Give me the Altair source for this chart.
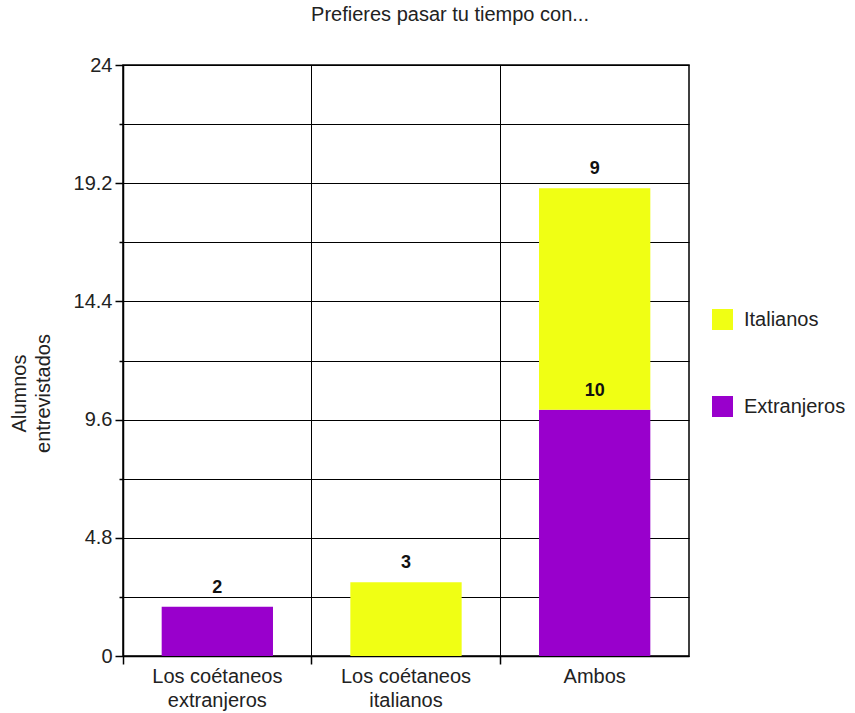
import altair as alt
import pandas as pd

categories = ["Los coétaneos extranjeros", "Los coétaneos italianos", "Ambos"]
series = ["Extranjeros", "Italianos"]
extranjeros = [2, 0, 10]
italianos = [0, 3, 9]
y_ticks = [0, 2.4, 4.8, 7.2, 9.6, 12, 14.4, 16.8, 19.2, 21.6, 24]
y_labeled = [0, 4.8, 9.6, 14.4, 19.2, 24]
colors = ["#F0FF14", "#9900CC"]  # Italianos, Extranjeros

rows = []
for i, c in enumerate(categories):
    for j, (s, vals) in enumerate(zip(series, [extranjeros, italianos])):
        if vals[i] > 0:
            rows.append({"category": c, "series": s, "value": vals[i], "order": j})
df = pd.DataFrame(rows)

FONT = "Liberation Sans"
P_IN = 0.41
P_OUT = P_IN / 2
BAND_POS = -(P_IN / 2) / (1 - P_IN)

base = alt.Chart(df).transform_stack(
    stack="value", groupby=["category"], as_=["y0", "y1"],
    sort=[alt.SortField("order", "ascending")]
)

xenc = alt.X(
    "category:N", sort=categories, title=None,
    scale=alt.Scale(paddingInner=P_IN, paddingOuter=P_OUT),
    axis=alt.Axis(
        bandPosition=BAND_POS, grid=True, gridColor="#000", gridOpacity=1, gridWidth=1,
        ticks=True, tickSize=8, tickColor="#000", tickWidth=1.5,
        domainColor="#000", domainWidth=1.5, labelAngle=0,
        labelFontSize=20, labelFont=FONT, labelColor="#222", labelLimit=300,
        labelPadding=2, labelLineHeight=24,
        labelExpr="split(replace(datum.label, 'coétaneos ', 'coétaneos|'), '|')",
    ),
)

label_test = " || ".join(f"datum.value == {v}" for v in y_labeled)

yenc = alt.Y(
    "y1:Q", title=["Alumnos", "entrevistados"],
    scale=alt.Scale(domain=[0, 24], nice=False, zero=True),
    axis=alt.Axis(
        values=y_ticks, format=".3~g", grid=True, gridColor="#000", gridOpacity=1, gridWidth=1,
        tickColor="#000", tickWidth=1.5,
        tickSize={"condition": {"test": label_test, "value": 8}, "value": 4},
        domainColor="#000", domainWidth=1.5,
        labelExpr=f"({label_test}) ? datum.label : ''",
        labelFontSize=20, labelFont=FONT, labelColor="#222", labelPadding=3,
        titleFontSize=20, titleFont=FONT, titleFontWeight="normal", titleColor="#222",
        titleX=-114, titleY=328, titleBaseline="top", titleAngle=-90, titleLineHeight=24,
    ),
)

bars = base.mark_bar().encode(
    x=xenc,
    y=yenc,
    y2="y0:Q",
    color=alt.Color(
        "series:N",
        scale=alt.Scale(domain=["Italianos", "Extranjeros"], range=colors),
        legend=alt.Legend(
            title=None, orient="none", legendX=589, legendY=244,
            symbolType="square", symbolSize=441, symbolStrokeWidth=0,
            rowPadding=66, labelFontSize=20, labelFont=FONT, labelColor="#222",
            labelOffset=11,
        ),
    ),
)

texts = base.mark_text(
    baseline="alphabetic", dy=-14, fontWeight="bold", fontSize=18, font=FONT, color="#111"
).encode(
    x=alt.X("category:N", sort=categories),
    y=alt.Y("y1:Q"),
    text=alt.Text("value:Q"),
)

chart = alt.layer(bars, texts).properties(
    width=566, height=591,
    title=alt.Title(
        "Prefieres pasar tu tiempo con...", fontSize=20, font=FONT, fontWeight="normal",
        color="#222", anchor="middle", dx=44, offset=30,
    ),
    autosize=alt.AutoSizeParams(type="none"),
    padding={"left": 123, "top": 65, "right": 166, "bottom": 57},
).configure_view(stroke="#000", strokeWidth=1.5)

chart.save("out.html", embed_options={"renderer": "svg", "actions": False})
